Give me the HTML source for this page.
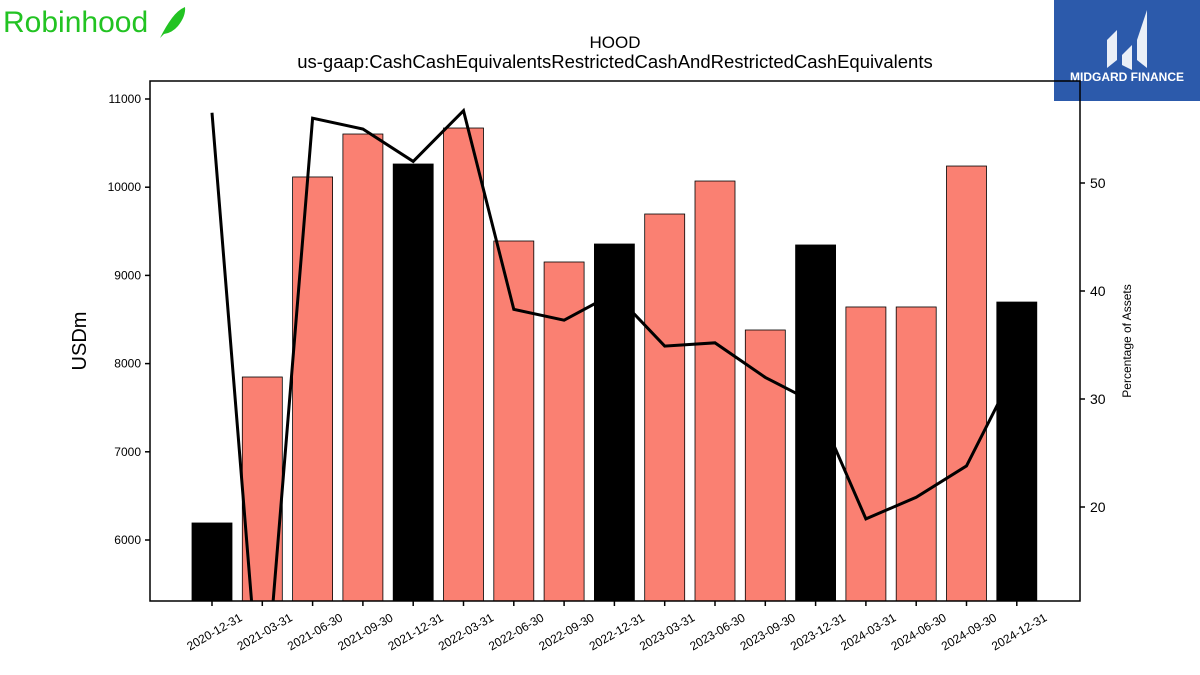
<!DOCTYPE html>
<html><head><meta charset="utf-8"><style>
html,body{margin:0;background:#fff;overflow:hidden;width:1200px;height:675px;}
svg{display:block;font-family:"Liberation Sans",sans-serif;}
</style></head><body>
<svg id="chart" width="1200" height="675" viewBox="0 0 1200 675">
<text x="3" y="32" font-size="30" fill="#22c322">Robinhood</text>
<path d="M160 38 Q166 26 172 18 Q178 10 185 7 Q186 16 178 26 Q172 33 164 34 Z" fill="#22c322"/>
<rect x="1054" y="0" width="146" height="101" fill="#2c5aab"/>
<text x="1127" y="81" font-size="12" font-weight="bold" fill="#fff" text-anchor="middle">MIDGARD FINANCE</text>
<path d="M1107 68 L1107 40 L1117 30 L1117 60 Z M1122 55 L1132 45 L1132 70 L1122 65 Z M1137 40 L1147 10 L1147 68 L1137 60 Z" fill="#fff" opacity="0.9"/>
<text x="615" y="48" font-size="17" text-anchor="middle">HOOD</text>
<text x="615" y="68" font-size="18.5" text-anchor="middle">us-gaap:CashCashEquivalentsRestrictedCashAndRestrictedCashEquivalents</text>
<text transform="translate(86,341) rotate(-90)" font-size="20" text-anchor="middle">USDm</text>
<text transform="translate(1131,341) rotate(-90)" font-size="12" text-anchor="middle">Percentage of Assets</text>
<g id="plot"></g>
</svg>
<script>
const categories=["2020-12-31","2021-03-31","2021-06-30","2021-09-30","2021-12-31","2022-03-31","2022-06-30","2022-09-30","2022-12-31","2023-03-31","2023-06-30","2023-09-30","2023-12-31","2024-03-31","2024-06-30","2024-09-30","2024-12-31"];
const cashValues=[6193,7848,10116,10603,10263,10671,9390,9152,9356,9696,10070,8381,9345,8642,8642,10240,8698];
const pctValues=[56.5,-1,56.0,55.0,52.0,56.7,38.3,37.3,39.8,34.9,35.2,32.0,29.6,18.9,20.9,23.8,33.0];
const leftTicks=[6000,7000,8000,9000,10000,11000];
const rightTicks=[20,30,40,50];
const NS="http://www.w3.org/2000/svg";
const X0=150,X1=1080,Y0=81,Y1=601;
const yL=v=>540-(v-6000)*0.0882;
const yR=v=>507-(v-20)*10.8;
const xC=i=>212+i*50.3;
const g=document.getElementById('plot');
function mk(t,a){const e=document.createElementNS(NS,t);for(const k in a)e.setAttribute(k,a[k]);g.appendChild(e);return e;}
const cp=mk('clipPath',{id:'cp'});
const cr=document.createElementNS(NS,'rect');cr.setAttribute('x',X0);cr.setAttribute('y',Y0);cr.setAttribute('width',X1-X0);cr.setAttribute('height',Y1-Y0);cp.appendChild(cr);
cashValues.forEach((v,i)=>{
 const top=yL(v);
 const b=mk('rect',{x:xC(i)-20,y:top,width:40,height:Y1-top,fill:(i%4===0)?'#000':'#fa8072',stroke:'#000','stroke-width':0.8});
 
 
 const tk=mk('line',{x1:xC(i),x2:xC(i),y1:Y1,y2:Y1+5,stroke:'#000','stroke-width':1.5});
 
 
 const lx=xC(i)+31, ly=Y1+19;
 const t=mk('text',{x:lx,y:ly,'font-size':12,'text-anchor':'end',transform:'rotate(-30 '+lx+' '+ly+')'});
 t.textContent=categories[i];
 
 
});
let d=pctValues.map((v,i)=>(i?'L':'M')+xC(i)+' '+yR(v)).join(' ');
const line=mk('path',{d:d,fill:'none',stroke:'#000','stroke-width':3,'clip-path':'url(#cp)'});


leftTicks.forEach(v=>{
 const y=yL(v);
 const l=mk('line',{x1:X0-5,x2:X0,y1:y,y2:y,stroke:'#000','stroke-width':1.5});
 
 
 const t=mk('text',{x:X0-9,y:y+4,'font-size':12,'text-anchor':'end'});
 t.textContent=v;
 
 
});
rightTicks.forEach(v=>{
 const y=yR(v);
 const l=mk('line',{x1:X1,x2:X1+5,y1:y,y2:y,stroke:'#000','stroke-width':1.5});
 
 
 const t=mk('text',{x:X1+10,y:y+5,'font-size':14});
 t.textContent=v;
 
 
});
const fr=mk('rect',{x:X0,y:Y0,width:X1-X0,height:Y1-Y0,fill:'none',stroke:'#000','stroke-width':1.5});


</script>
</body></html>
